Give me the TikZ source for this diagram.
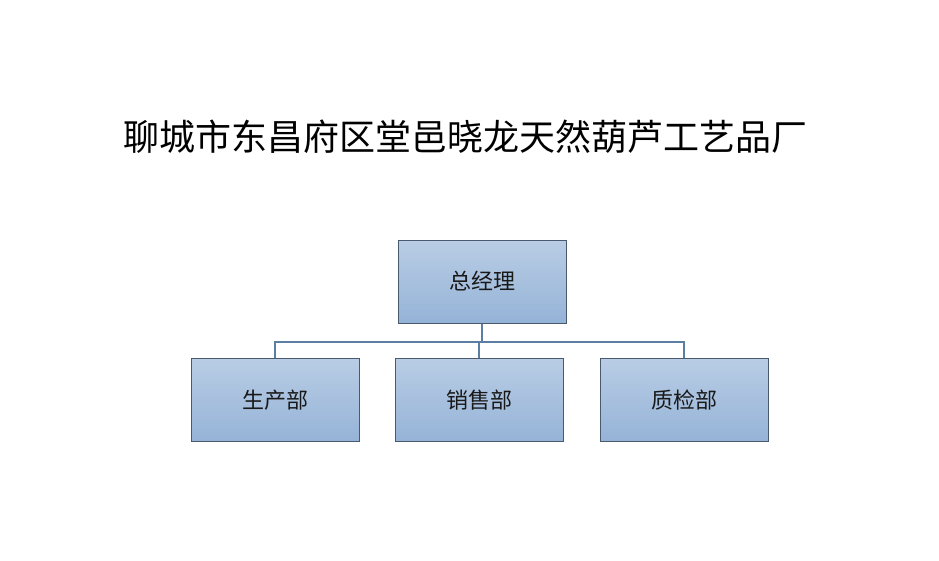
\documentclass[tikz,border=0pt]{standalone}
\usepackage{fontspec}
\newfontfamily\cjk{Noto Sans CJK SC}
\begin{document}
\begin{tikzpicture}[x=1pt,y=-1pt,
  box/.style={draw=boxborder,line width=1pt,top color=boxtop,bottom color=boxbottom,minimum width=168pt,minimum height=83pt,inner sep=0pt,font=\cjk\fontsize{22}{26}\selectfont,text=black!90},
  conn/.style={draw=connc,line width=1.5pt}]
\definecolor{boxtop}{HTML}{B9CDE5}
\definecolor{boxbottom}{HTML}{95B3D7}
\definecolor{boxborder}{HTML}{4A5A6E}
\definecolor{connc}{HTML}{5A7FA2}
\useasboundingbox (0,0) rectangle (939,560);
\node[font=\cjk\fontsize{36}{42}\selectfont] (title) at (465,137) {聊城市东昌府区堂邑晓龙天然葫芦工艺品厂};
\node[box] (gm) at (482,281.5) {总经理};
\node[box] (prod) at (275,400) {生产部};
\node[box] (sales) at (479,400) {销售部};
\node[box] (qc) at (684,400) {质检部};
\coordinate (j) at (482,342);
\draw[conn] (gm.south) -- (j);
\draw[conn] (prod.north) |- (j) -| (qc.north);
\draw[conn] (sales.north) -- (sales.north |- j);
\end{tikzpicture}
\end{document}
